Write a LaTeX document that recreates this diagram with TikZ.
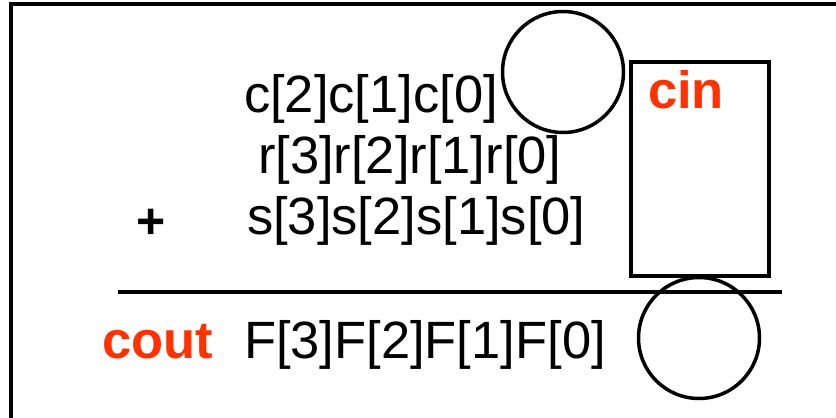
\documentclass[tikz,border=0pt]{standalone}
\usepackage{fontspec}
\setmainfont{Liberation Sans}
\definecolor{carryred}{RGB}{255,51,0}
\begin{document}
\begin{tikzpicture}[x=1pt,y=-1pt,
  every node/.style={inner sep=0pt,outer sep=0pt,font=\fontsize{52.5}{60}\selectfont},
  bitrow/.style={anchor=base west},
  carrylbl/.style={anchor=base west,text=carryred,font=\fontsize{52.5}{60}\selectfont\bfseries},
  stroke/.style={line width=3.5pt,draw=black}]
\useasboundingbox (0,0) rectangle (836,418);
% outer frame, running off the right and bottom edges
\draw[stroke] (11,440) -- (11,4) -- (860,4);
% operand rows
\node[bitrow] (crow) at (244,112) {c[2]c[1]c[0]};
\node[bitrow] (rrow) at (258,173) {r[3]r[2]r[1]r[0]};
\node[bitrow] (srow) at (247,234) {s[3]s[2]s[1]s[0]};
\node[font=\fontsize{50}{60}\selectfont\bfseries] (plus) at (151.5,224) {+};
% sum rule
\coordinate (ruleL) at (118,292);
\coordinate (ruleR) at (782,292);
\draw[stroke] (ruleL) -- (ruleR);
% result row
\node[carrylbl] (cout) at (102,358) {cout};
\node[bitrow] (frow) at (244,358) {F[3]F[2]F[1]F[0]};
% carry-in box and the two empty carry circles
\node[stroke,minimum width=138pt,minimum height=214pt] (cinbox) at (700,169) {};
\node[carrylbl] (cin) at (648,108) {cin};
\node[stroke,circle,minimum size=121pt] (ctop) at (563,72) {};
\node[stroke,circle,minimum size=121pt] (cbot) at (699,338) {};
\end{tikzpicture}
\end{document}
